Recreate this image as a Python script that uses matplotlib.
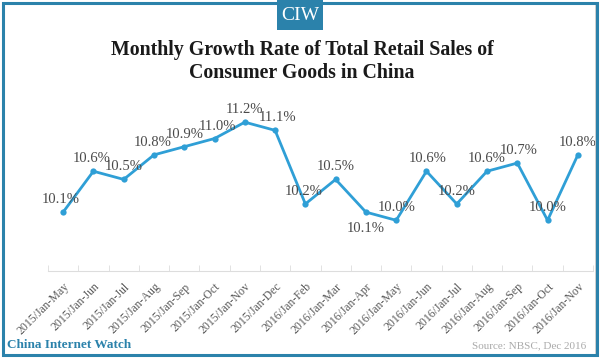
import matplotlib.pyplot as plt
from matplotlib.patches import Rectangle

months = ["2015/Jan-May", "2015/Jan-Jun", "2015/Jan-Jul", "2015/Jan-Aug",
          "2015/Jan-Sep", "2015/Jan-Oct", "2015/Jan-Nov", "2015/Jan-Dec",
          "2016/Jan-Feb", "2016/Jan-Mar", "2016/Jan-Apr", "2016/Jan-May",
          "2016/Jan-Jun", "2016/Jan-Jul", "2016/Jan-Aug", "2016/Jan-Sep",
          "2016/Jan-Oct", "2016/Jan-Nov"]
growth = [10.1, 10.6, 10.5, 10.8, 10.9, 11.0, 11.2, 11.1, 10.2,
          10.5, 10.1, 10.0, 10.6, 10.2, 10.6, 10.7, 10.0, 10.8]

# label offsets (points) so the value labels don't pile up
label_dx = [-2, -1, 0, -1, 0, 2, 0, 2, -1, 0, 0, 0, 1, 0, 0, 1, 0, 0]
label_dy = [9, 9, 9, 9, 9, 9, 9, 9, 9, 9, -12, 9, 9, 9, 9, 9, 9, 9]

plt.rcParams["font.family"] = ["Liberation Serif", "DejaVu Serif"]

W, H = 600, 359
fig = plt.figure(figsize=(6, 3.59), dpi=100)

blue = "#2b82ab"
line_blue = "#2f9fd6"

# outer frame
fig.patches.append(Rectangle((4 / W, 4 / H), 592 / W, 351 / H, transform=fig.transFigure,
                             fill=False, edgecolor="#c9c9c9", linewidth=1.2))
fig.patches.append(Rectangle((2.5 / W, 4.5 / H), 594 / W, 351.5 / H, transform=fig.transFigure,
                             fill=False, edgecolor=blue, linewidth=2.2))
# CIW badge
fig.patches.append(Rectangle((277 / W, (H - 30) / H), 46 / W, 30 / H, transform=fig.transFigure,
                             facecolor=blue, edgecolor="none", zorder=5))
fig.text(300 / W, (H - 16) / H, "CIW", color="white", fontsize=14, ha="center", va="center",
         zorder=6)

fig.text(302 / W, (H - 61) / H, "Monthly Growth Rate of Total Retail Sales of\nConsumer Goods in China",
         ha="center", va="center", fontsize=14.3, fontweight="bold", color="#1a1a1a",
         linespacing=1.2)

ax = fig.add_axes([48 / W, (H - 271) / H, 545 / W, 166 / H])
x = list(range(len(months)))
ax.plot(x, growth, color=line_blue, linewidth=2, marker="o", markersize=4.5,
        markeredgewidth=0)
ax.set_xlim(-0.5, len(months) - 0.5)
ax.set_ylim(9.38, 11.41)

for i, v in enumerate(growth):
    ax.annotate(f"{v:.1f}%", (i, v), xytext=(label_dx[i], label_dy[i]),
                textcoords="offset points", ha="center", va="center",
                fontsize=10.5, color="#4a4a4a")

for s in ["top", "right", "left"]:
    ax.spines[s].set_visible(False)
ax.spines["bottom"].set_color("#dddddd")
ax.set_yticks([])
ax.set_xticks(x)
ax.set_xticklabels(months, rotation=45, ha="right", rotation_mode="anchor",
                   fontsize=8.5, color="#5a5a5a")
ax.tick_params(axis="x", which="major", length=0, pad=7)
ax.set_xticks([i - 0.5 for i in range(len(months) + 1)], minor=True)
ax.tick_params(axis="x", which="minor", direction="in", length=4, color="#dddddd")

fig.text(7 / W, (H - 345) / H, "China Internet Watch", color=blue, fontsize=9.5,
         fontweight="bold", ha="left", va="center")
fig.text(586 / W, (H - 346) / H, "Source: NBSC, Dec 2016", color="#aaaaaa", fontsize=8,
         ha="right", va="center")

plt.savefig("out.png", dpi=100)
